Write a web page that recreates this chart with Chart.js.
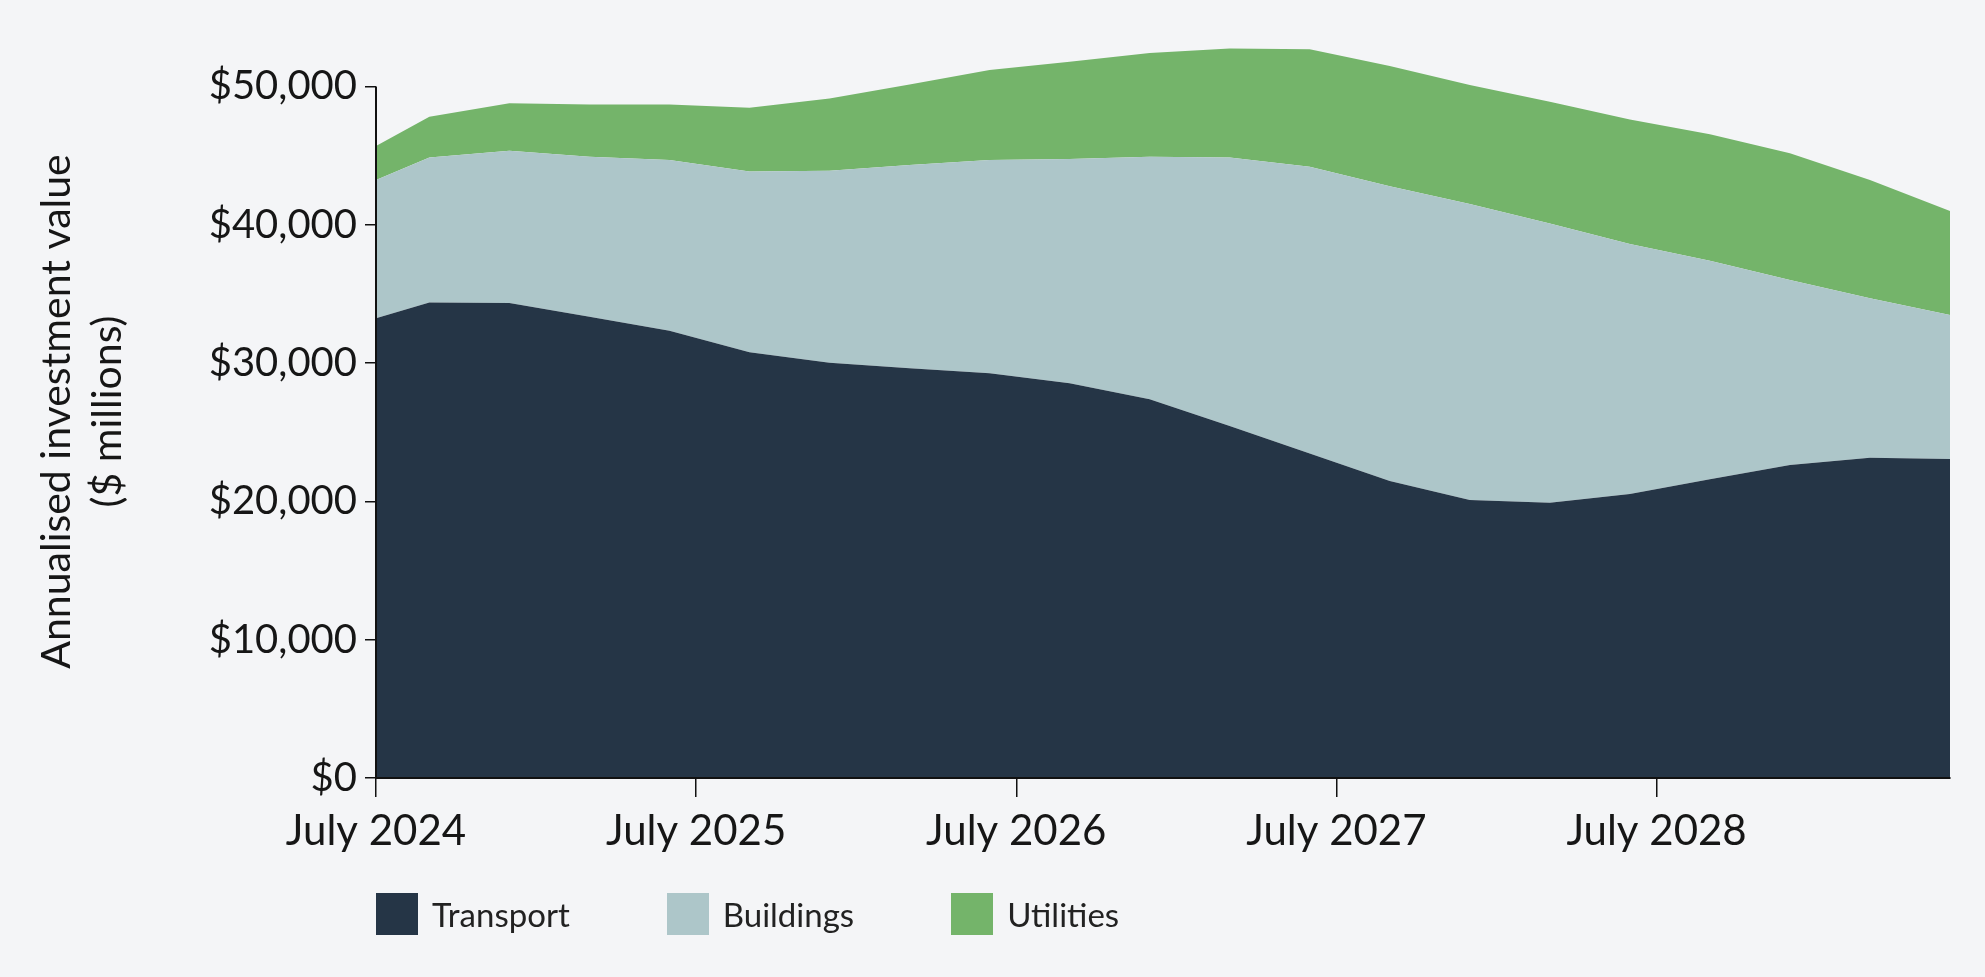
<!DOCTYPE html>
<html>
<head>
<meta charset="utf-8">
<script src="https://cdn.jsdelivr.net/npm/chart.js@4.4.1/dist/chart.umd.min.js"></script>
<style>
  html, body { margin: 0; padding: 0; background: #f4f5f7; }
  .wrap { position: relative; width: 1985px; height: 977px; }
  canvas { position: absolute; left: 0; top: 0; }
  .legend { position: absolute; top: 893px; left: 376px; display: flex; gap: 97px; font: 33px Lato, sans-serif; color: #222; }
  .legend-item { display: flex; align-items: center; height: 42px; }
  .legend-item i { display: inline-block; width: 42px; height: 42px; margin-right: 14px; }
</style>
</head>
<body>
<div class="wrap">
  <canvas id="chart" width="1985" height="977"></canvas>
  <div class="legend" id="legend"></div>
</div>
<script>
// Data (x = months after July 2024)
const months = [0, 2, 5, 8, 11, 14, 17, 20, 23, 26, 29, 32, 35, 38, 41, 44, 47, 50, 53, 56, 59];
const transport = [33240, 34390, 34340, 33350, 32340, 30780, 30030, 29620, 29260, 28540, 27380, 25450, 23470, 21470, 20100, 19900, 20530, 21600, 22630, 23160, 23060];
const buildings = [10000, 10480, 11020, 11570, 12340, 13080, 13880, 14700, 15420, 16210, 17540, 19420, 20730, 21310, 21400, 20200, 18080, 15800, 13370, 11520, 10410];
const utilities = [2450, 2940, 3420, 3780, 4020, 4610, 5230, 5830, 6510, 7040, 7500, 7880, 8500, 8700, 8600, 8800, 9010, 9140, 9170, 8560, 7520];

const seriesNames = ['Transport', 'Buildings', 'Utilities'];
const seriesColors = ['#253546', '#adc6c9', '#74b46a'];
const xTickLabels = ['July 2024', 'July 2025', 'July 2026', 'July 2027', 'July 2028'];

// Config
const FONT = 'Lato, "Open Sans", sans-serif';
const TEXT = '#161616';
const Y_MAX = 53000; // headroom above the $50,000 tick

const toPoints = (values) => values.map((v, i) => ({ x: months[i], y: v }));

const datasets = [transport, buildings, utilities].map((values, i) => ({
	label: seriesNames[i],
	data: toPoints(values),
	backgroundColor: seriesColors[i],
	borderWidth: 0,
	pointRadius: 0,
	tension: 0,
	fill: i === 0 ? 'origin' : '-1'
}));

// y axis line only runs up to the last tick
const yAxisLine = {
	id: 'yAxisLine',
	afterDraw(chart) {
		const y = chart.scales.y;
		const top = y.getPixelForValue(y.ticks[y.ticks.length - 1].value);
		const bottom = y.getPixelForValue(0);
		const x = chart.chartArea.left;
		const ctx = chart.ctx;
		ctx.save();
		ctx.strokeStyle = '#111';
		ctx.lineWidth = 2;
		ctx.beginPath();
		ctx.moveTo(x, top);
		ctx.lineTo(x, bottom);
		ctx.stroke();
		ctx.restore();
	}
};

const chart = new Chart(document.getElementById('chart'), {
	type: 'line',
	data: { datasets },
	plugins: [yAxisLine],
	options: {
		responsive: false,
		animation: false,
		layout: { padding: { top: 45, right: 35, bottom: 119, left: 0 } },
		plugins: {
			legend: { display: false },
			tooltip: { enabled: false }
		},
		scales: {
			x: {
				type: 'linear',
				min: 0,
				max: 59,
				afterFit: (scale) => { scale.height = 80; },
				grid: { drawOnChartArea: false, tickLength: 19, color: '#111', lineWidth: 1.5 },
				border: { display: true, color: '#111', width: 2, z: 1 },
				ticks: {
					stepSize: 12,
					includeBounds: false,
					padding: 9,
					color: TEXT,
					font: { family: FONT, size: 42 },
					maxRotation: 0,
					callback: (v, i) => xTickLabels[i]
				}
			},
			y: {
				stacked: true,
				min: 0,
				afterBuildTicks: (scale) => {
					scale.max = Y_MAX;
					scale.ticks = scale.ticks.filter((t) => t.value <= Y_MAX);
				},
				afterFit: (scale) => { scale.width = 376; },
				grid: { drawOnChartArea: false, tickLength: 11, color: '#111', lineWidth: 1.5 },
				border: { display: false },
				ticks: {
					stepSize: 10000,
					padding: 8,
					color: TEXT,
					font: { family: FONT, size: 40 },
					callback: (v) => '$' + v.toLocaleString('en-US')
				},
				title: {
					display: true,
					text: ['Annualised investment value', '($ millions)'],
					color: TEXT,
					font: { family: FONT, size: 41, lineHeight: 1.25 },
					padding: { top: 31, bottom: 0 }
				}
			}
		}
	}
});

// Legend
const legendEl = document.getElementById('legend');
legendEl.style.left = chart.chartArea.left + 'px';
seriesNames.forEach((name, i) => {
	const item = document.createElement('div');
	item.className = 'legend-item';
	item.innerHTML = `<i style="background:${seriesColors[i]}"></i>${name}`;
	legendEl.appendChild(item);
});
</script>
</body>
</html>
